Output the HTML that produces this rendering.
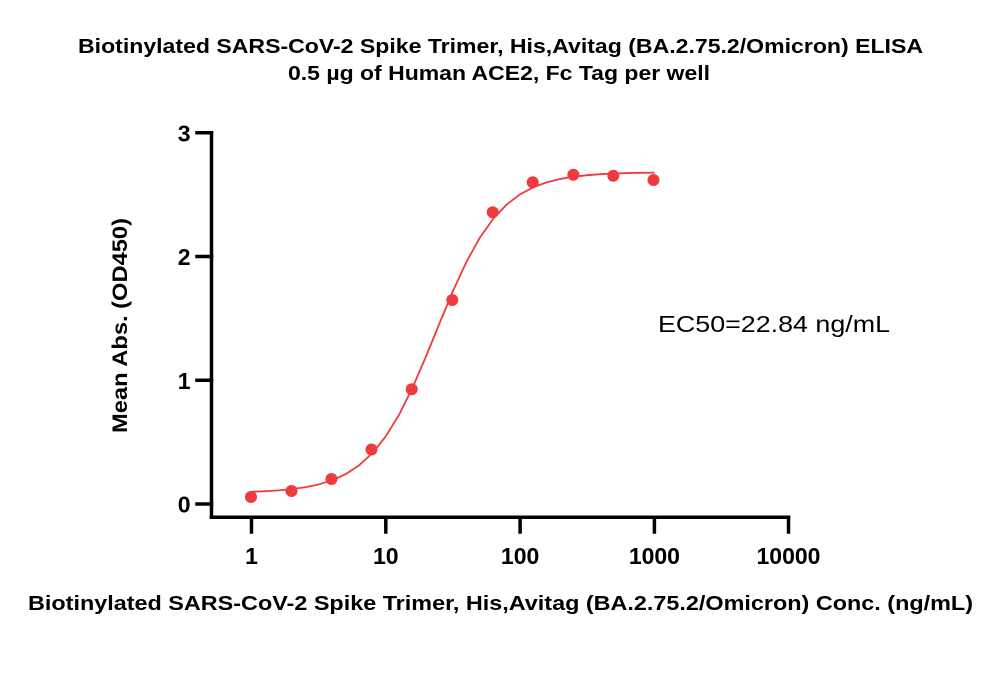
<!DOCTYPE html>
<html>
<head>
<meta charset="utf-8">
<style>
  html, body { margin: 0; padding: 0; background: #ffffff; }
  svg { display: block; }
  .b { font-family: "Liberation Sans", "DejaVu Sans", sans-serif; font-weight: bold; fill: #000; }
  .r { font-family: "Liberation Sans", "DejaVu Sans", sans-serif; fill: #000; }
</style>
</head>
<body>
<svg width="1000" height="675" viewBox="0 0 1000 675" xmlns="http://www.w3.org/2000/svg">
  <rect width="1000" height="675" fill="#ffffff"/>

  <!-- Title -->
  <text class="b" x="78" y="53" font-size="20.5" textLength="845" lengthAdjust="spacingAndGlyphs">Biotinylated SARS-CoV-2 Spike Trimer, His,Avitag (BA.2.75.2/Omicron) ELISA</text>
  <text class="b" x="288" y="80" font-size="20.5" textLength="422" lengthAdjust="spacingAndGlyphs">0.5 µg of Human ACE2, Fc Tag per well</text>

  <!-- Axes -->
  <g stroke="#000" stroke-width="3.5" fill="none" stroke-linecap="square">
    <line x1="211.5" y1="132.7" x2="211.5" y2="517.3"/>
    <line x1="211.5" y1="517.3" x2="788.5" y2="517.3"/>
    <!-- y ticks -->
    <line x1="197" y1="132.7" x2="211.5" y2="132.7"/>
    <line x1="197" y1="256.5" x2="211.5" y2="256.5"/>
    <line x1="197" y1="380.3" x2="211.5" y2="380.3"/>
    <line x1="197" y1="504" x2="211.5" y2="504"/>
    <!-- x ticks -->
    <line x1="251.5" y1="517.3" x2="251.5" y2="532"/>
    <line x1="385.8" y1="517.3" x2="385.8" y2="532"/>
    <line x1="520.1" y1="517.3" x2="520.1" y2="532"/>
    <line x1="654.4" y1="517.3" x2="654.4" y2="532"/>
    <line x1="788.5" y1="517.3" x2="788.5" y2="532"/>
  </g>

  <!-- Y tick labels -->
  <g class="b" font-size="23" text-anchor="end">
    <text x="190.5" y="141.5">3</text>
    <text x="190.5" y="265">2</text>
    <text x="190.5" y="389">1</text>
    <text x="190.5" y="512.5">0</text>
  </g>

  <!-- X tick labels -->
  <g class="b" font-size="23" text-anchor="middle">
    <text x="251.5" y="564">1</text>
    <text x="385.8" y="564">10</text>
    <text x="520.1" y="564">100</text>
    <text x="654.4" y="564">1000</text>
    <text x="788.5" y="564">10000</text>
  </g>

  <!-- Axis titles -->
  <text class="b" font-size="21" text-anchor="middle" transform="translate(127,325.5) rotate(-90)" x="0" y="0" textLength="215" lengthAdjust="spacingAndGlyphs">Mean Abs. (OD450)</text>
  <text class="b" x="28" y="610" font-size="20.5" textLength="945" lengthAdjust="spacingAndGlyphs">Biotinylated SARS-CoV-2 Spike Trimer, His,Avitag (BA.2.75.2/Omicron) Conc. (ng/mL)</text>

  <!-- EC50 annotation -->
  <text class="r" x="658" y="332" font-size="23" textLength="232" lengthAdjust="spacingAndGlyphs">EC50=22.84 ng/mL</text>

  <!-- Fitted curve -->
  <polyline fill="none" stroke="#ef3b3f" stroke-width="1.8" stroke-linejoin="round"
    points="251.5,491.77 264.93,491.22 278.36,490.38 291.79,489.13 305.22,487.25 318.65,484.45 332.08,480.29 345.51,474.21 358.94,465.47 372.37,453.14 385.8,436.33 399.23,414.42 412.66,387.38 426.09,356.29 439.52,323.26 452.95,290.99 466.38,261.96 479.81,237.73 493.24,218.73 506.67,204.54 520.1,194.33 533.53,187.17 546.96,182.26 560.39,178.93 573.82,176.67 587.25,175.17 600.68,174.18 614.11,173.52 627.54,173.07 640.97,172.79 654.4,172.59"/>

  <!-- Data points -->
  <g fill="#ef3b3f">
    <circle cx="251" cy="497" r="6"/>
    <circle cx="291.5" cy="491" r="6"/>
    <circle cx="331.5" cy="479" r="6"/>
    <circle cx="371.5" cy="449.5" r="6"/>
    <circle cx="411.7" cy="389.3" r="6"/>
    <circle cx="452.3" cy="300" r="6"/>
    <circle cx="492.7" cy="212.3" r="6"/>
    <circle cx="532.7" cy="182.3" r="6"/>
    <circle cx="573.3" cy="174.7" r="6"/>
    <circle cx="613.3" cy="175.7" r="6"/>
    <circle cx="653.5" cy="180" r="6"/>
  </g>
</svg>
</body>
</html>
